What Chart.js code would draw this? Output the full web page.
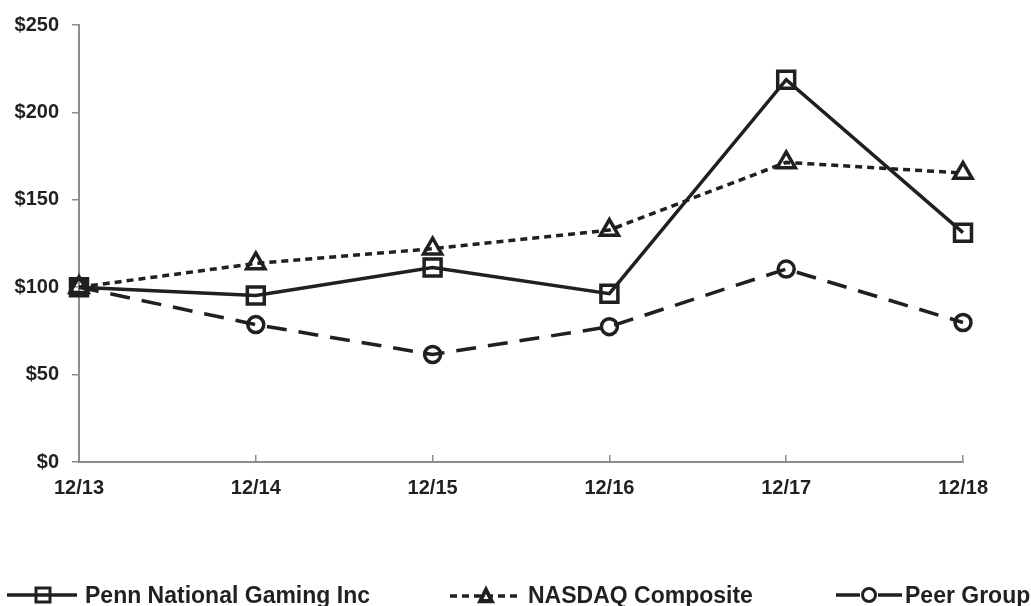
<!DOCTYPE html>
<html>
<head>
<meta charset="utf-8">
<script src="https://cdn.jsdelivr.net/npm/chart.js@4/dist/chart.umd.min.js"></script>
<style>
  html, body { margin: 0; padding: 0; background: #fff; }
  #wrap { position: relative; width: 1031px; height: 606px; overflow: hidden; }
  canvas { position: absolute; left: 0; top: 0; }
  .leg { position: absolute; top: 582px; height: 26px; display: flex; align-items: center; font-family: "Liberation Sans", Arial, sans-serif; font-weight: bold; font-size: 23px; line-height: 26px; color: #231f20; white-space: nowrap; }
  .leg svg { display: block; }
  .ico { position: absolute; top: 584px; }
</style>
</head>
<body>
<div id="wrap">
  <canvas id="c" width="1031" height="606"></canvas>
  <svg class="ico" style="left:7px;" width="70" height="22"><line x1="0" y1="11" x2="70" y2="11" stroke="#231f20" stroke-width="3.5"/><rect x="29" y="4" width="14" height="14" fill="none" stroke="#231f20" stroke-width="3"/></svg>
  <div class="leg" style="left:85px;">Penn National Gaming Inc</div>
  <svg class="ico" style="left:450px;" width="72" height="22"><line x1="0" y1="12" x2="72" y2="12" stroke="#231f20" stroke-width="3.5" stroke-dasharray="7,5"/><polygon points="36,4 43,18 29,18" fill="#231f20" stroke="#231f20" stroke-width="2.5"/><polygon points="36,10 38.5,15 33.5,15" fill="#fff"/></svg>
  <div class="leg" style="left:528px;">NASDAQ Composite</div>
  <svg class="ico" style="left:836px;" width="66" height="22"><line x1="0" y1="11" x2="24" y2="11" stroke="#231f20" stroke-width="3.5"/><line x1="42" y1="11" x2="66" y2="11" stroke="#231f20" stroke-width="3.5"/><circle cx="33" cy="11" r="6.5" fill="#fff" stroke="#231f20" stroke-width="3"/></svg>
  <div class="leg" style="left:905px;">Peer Group</div>
</div>
<script>
const categories = ['12/13', '12/14', '12/15', '12/16', '12/17', '12/18'];
const pennNational = [100, 95.3, 111.3, 96.3, 218.7, 131.2];
const nasdaqComposite = [100, 113.6, 122.0, 132.7, 171.4, 165.3];
const peerGroup = [100, 78.6, 61.5, 77.4, 110.4, 79.8];
const yTickValues = [0, 50, 100, 150, 200, 250];

const ink = '#231f20';
const axisGray = '#8c8c8c';
const tickFont = { family: '"Liberation Sans", Arial, sans-serif', weight: 'bold', size: 20 };

new Chart(document.getElementById('c'), {
  type: 'line',
  data: {
    labels: categories,
    datasets: [
      {
        label: 'Penn National Gaming Inc',
        data: pennNational,
        borderColor: ink,
        borderWidth: 3.5,
        pointStyle: 'rect',
        pointRadius: 12,
        pointBorderWidth: 3.5,
        pointBorderColor: ink,
        pointBackgroundColor: 'rgba(0,0,0,0)',
        tension: 0,
        clip: false
      },
      {
        label: 'NASDAQ Composite',
        data: nasdaqComposite,
        borderColor: ink,
        borderWidth: 3.5,
        borderDash: [7, 5],
        pointStyle: 'triangle',
        pointRadius: 10.5,
        pointBorderWidth: 3.5,
        pointBorderColor: ink,
        pointBackgroundColor: 'rgba(0,0,0,0)',
        tension: 0,
        clip: false
      },
      {
        label: 'Peer Group',
        data: peerGroup,
        borderColor: ink,
        borderWidth: 3.5,
        borderDash: [20, 12],
        pointStyle: 'circle',
        pointRadius: 8,
        pointBorderWidth: 3.5,
        pointBorderColor: ink,
        pointBackgroundColor: 'rgba(0,0,0,0)',
        tension: 0,
        clip: false
      }
    ]
  },
  options: {
    responsive: false,
    animation: false,
    layout: { padding: { left: 0, top: 23, right: 68, bottom: 104 } },
    plugins: { legend: { display: false }, tooltip: { enabled: false } },
    scales: {
      x: {
        type: 'category',
        offset: false,
        afterFit: s => { s.height = 40; },
        grid: { display: true, drawOnChartArea: false, drawTicks: true, tickLength: -7, color: axisGray, lineWidth: 1.5 },
        border: { display: true, color: axisGray, width: 2 },
        ticks: { color: ink, font: tickFont, padding: 21, maxRotation: 0, autoSkip: false }
      },
      y: {
        min: 0,
        max: 250,
        afterFit: s => { s.width = 79; },
        afterBuildTicks: s => { s.ticks = yTickValues.map(v => ({ value: v })); },
        grid: { display: true, drawOnChartArea: false, drawTicks: true, tickLength: 7, color: axisGray, lineWidth: 1.5 },
        border: { display: true, color: axisGray, width: 2 },
        ticks: { color: ink, font: tickFont, padding: 13, callback: v => '$' + v }
      }
    }
  }
});
</script>
</body>
</html>
